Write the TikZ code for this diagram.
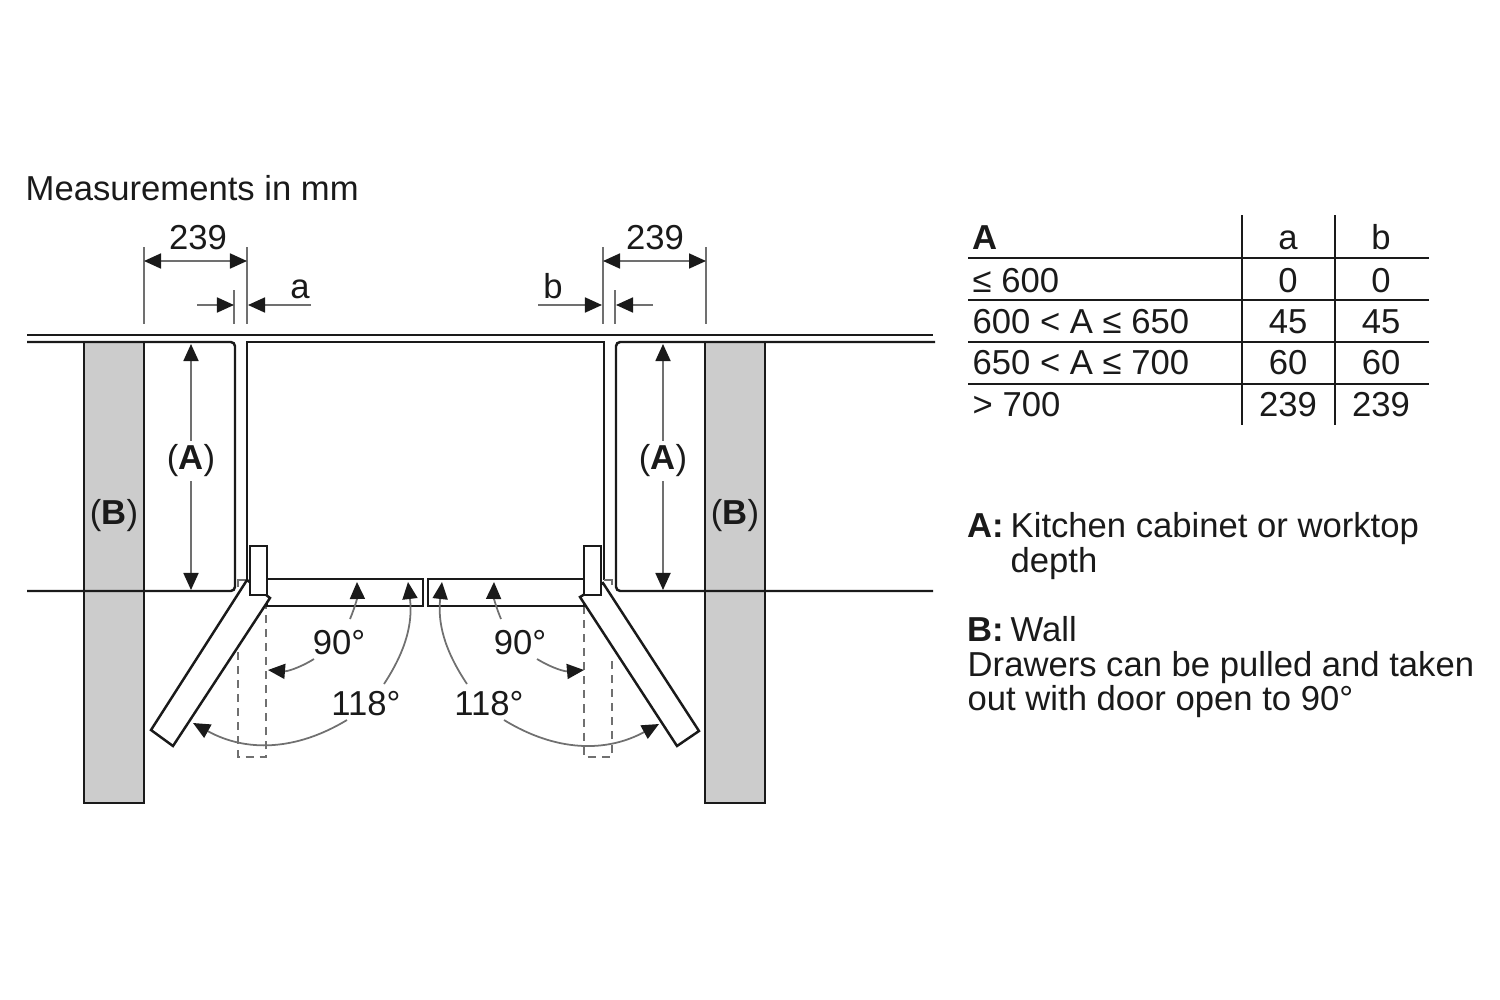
\documentclass[tikz,border=0pt]{standalone}
\usepackage{fontspec}
\setmainfont{Liberation Sans}
\usetikzlibrary{arrows.meta, positioning}
\definecolor{wallgray}{HTML}{CCCCCC}
\definecolor{linegray}{HTML}{707070}
\definecolor{inkblack}{HTML}{1A1A1A}
\tikzset{
    outline/.style={draw=inkblack, line width=0.7pt},
    wall/.style={outline, fill=wallgray},
    doorbox/.style={outline, fill=white, line join=miter},
    guide/.style={draw=linegray, line width=0.5pt},
    hidden/.style={draw=linegray, line width=0.5pt, dash pattern=on 2.3pt off 1.7pt},
    dimline/.style={draw=linegray, line width=0.5pt, -{Triangle[inkblack, length=1.7mm, width=1.5mm]}},
    dimboth/.style={dimline, {Triangle[inkblack, length=1.7mm, width=1.5mm]}-{Triangle[inkblack, length=1.7mm, width=1.5mm]}},
    txt/.style={inner sep=0pt, anchor=base west, text=inkblack, font=\fontsize{9.85}{11}\selectfont},
    mid/.style={txt, anchor=base},
    dimlabel/.style={inner sep=1pt, text=inkblack, font=\fontsize{9.85}{11}\selectfont}
}

\begin{document}
\begin{tikzpicture}[x=0.01cm, y=-0.01cm]
    \useasboundingbox (0,0) rectangle (1500,1000);

    % walls
    \path[wall] (84,342) rectangle (144,803);
    \path[wall] (705,342) rectangle (765,803);

    % worktop and cabinets
    \path[outline] (27,335) -- (933,335);
    \path[outline, rounded corners=1.2pt] (27,342) -- (235,342) -- (235,591) -- (27,591);
    \path[outline, rounded corners=1.2pt] (935,342) -- (616,342) -- (616,591) -- (933,591);

    % appliance
    \path[outline] (247,580) -- (247,342) -- (604,342) -- (604,580);
    \path[guide] (238,587) -- (238,580) -- (247,580);
    \path[guide] (604,580) -- (612,580) -- (612,585);

    % dashed door at 90
    \path[hidden] (238,652) -- (238,757) -- (266,757) -- (266,606);
    \path[hidden] (584,606) -- (584,757) -- (612,757) -- (612,655);

    % doors
    \path[doorbox] (267,579) rectangle (423,606);
    \path[doorbox] (428,579) rectangle (584,606);
    \path[doorbox] (247,580) -- (270,598) -- (173,746) -- (151,730) -- cycle;
    \path[doorbox] (603,583) -- (580,597) -- (677,746) -- (699,731) -- cycle;
    \node[doorbox, minimum width=0.17cm, minimum height=0.49cm, inner sep=0pt] (hingeL) at (258.5,570.5) {};
    \node[doorbox, minimum width=0.17cm, minimum height=0.49cm, inner sep=0pt] (hingeR) at (592.5,570.5) {};

    % extension lines
    \coordinate (ext1a) at (144,247); \coordinate (ext1b) at (144,324);
    \coordinate (ext2a) at (247,247); \coordinate (ext2b) at (247,324);
    \coordinate (ext3a) at (234,290); \coordinate (ext3b) at (234,324);
    \coordinate (ext4a) at (603,247); \coordinate (ext4b) at (603,324);
    \coordinate (ext5a) at (706,247); \coordinate (ext5b) at (706,324);
    \coordinate (ext6a) at (615,290); \coordinate (ext6b) at (615,324);
    \foreach \i in {1,...,6}
        \path[guide] (ext\i a) -- (ext\i b);

    % dimension arrows
    \coordinate (wL1) at (144,261); \coordinate (wL2) at (247,261);
    \coordinate (wR1) at (603,261); \coordinate (wR2) at (706,261);
    \coordinate (gapA1) at (197,305); \coordinate (gapA2) at (234,305);
    \coordinate (gapA3) at (311,305); \coordinate (gapA4) at (248,305);
    \coordinate (gapB1) at (538,305); \coordinate (gapB2) at (602,305);
    \coordinate (gapB3) at (653,305); \coordinate (gapB4) at (616,305);
    \path
        (wL1) edge[dimboth] (wL2)
        (wR1) edge[dimboth] (wR2)
        (gapA1) edge[dimline] (gapA2)
        (gapA3) edge[dimline] (gapA4)
        (gapB1) edge[dimline] (gapB2)
        (gapB3) edge[dimline] (gapB4);

    % depth labels
    \node[dimlabel] (depthL) at (191,461) {(\textbf{A})};
    \node[dimlabel] (depthR) at (663,461) {(\textbf{A})};
    \node[dimlabel] (wallL) at (114,516) {(\textbf{B})};
    \node[dimlabel] (wallR) at (735,516) {(\textbf{B})};
    \coordinate (depthLt) at (191,344); \coordinate (depthLb) at (191,590);
    \coordinate (depthRt) at (663,344); \coordinate (depthRb) at (663,590);
    \path
        (depthL) edge[dimline] (depthLt)
        (depthL) edge[dimline] (depthLb)
        (depthR) edge[dimline] (depthRt)
        (depthR) edge[dimline] (depthRb);

    % swing arrows
    \coordinate (a1) at (350,619); \coordinate (a1e) at (357,582);
    \coordinate (a2) at (314,659); \coordinate (a2e) at (268,670);
    \coordinate (a3) at (384,684); \coordinate (a3e) at (408,582);
    \coordinate (a4) at (347,720); \coordinate (a4e) at (193,723);
    \coordinate (b1) at (501,619); \coordinate (b1e) at (494,582);
    \coordinate (b2) at (537,659); \coordinate (b2e) at (584,670);
    \coordinate (b3) at (467,684); \coordinate (b3e) at (442,582);
    \coordinate (b4) at (504,720); \coordinate (b4e) at (659,724);
    \path
        (a1) edge[dimline, bend right=12] (a1e)
        (a2) edge[dimline, bend left=18] (a2e)
        (a3) edge[dimline, bend right=20] (a3e)
        (a4) edge[dimline, bend left=30] (a4e)
        (b1) edge[dimline, bend left=12] (b1e)
        (b2) edge[dimline, bend right=18] (b2e)
        (b3) edge[dimline, bend left=20] (b3e)
        (b4) edge[dimline, bend right=30] (b4e);

    % labels on the drawing
    \node[txt] (title) at (25,200) {Measurements in mm};
    \node[mid] (dimL) at (198,249) {239};
    \node[mid] (dimR) at (655,249) {239};
    \node[mid] (gapa) at (300,298) {a};
    \node[mid] (gapb) at (553,298) {b};
    \node[mid] (angL) at (339,654) {90°};
    \node[mid] (angR) at (520,654) {90°};
    \node[mid] (wideL) at (366,715) {118°};
    \node[mid] (wideR) at (489,715) {118°};

    % table
    \foreach \ypos in {258,300,342,384}
        \path[guide, draw=inkblack] (968,\ypos) -- (1429,\ypos);
    \path[guide, draw=inkblack] (1242,215) -- (1242,425);
    \path[guide, draw=inkblack] (1335,215) -- (1335,425);
    \node[txt] (headA) at (972,249) {\textbf{A}};
    \node[mid] (heada) at (1288,249) {a};
    \node[mid] (headb) at (1381,249) {b};
    \foreach \ypos/\rowlabel/\rowval [count=\r] in {292/≤ 600/0, 333/600 < A ≤ 650/45, 374/650 < A ≤ 700/60, 416/> 700/239} {
        \node[txt] (row\r) at (972,\ypos) {\rowlabel};
        \node[mid] (row\r a) at (1288,\ypos) {\rowval};
        \node[mid] (row\r b) at (1381,\ypos) {\rowval};
    }

    % legend
    \node[txt] (keyA) at (967,537) {\textbf{A:}};
    \node[txt] (keyAt) at (1010,537) {Kitchen cabinet or worktop};
    \node[txt] (keyAu) at (1010,572) {depth};
    \node[txt] (keyB) at (967,641) {\textbf{B:}};
    \node[txt] (keyBt) at (1010,641) {Wall};
    \node[txt] (note1) at (967,676) {Drawers can be pulled and taken};
    \node[txt] (note2) at (967,710) {out with door open to 90°};
\end{tikzpicture}
\end{document}
